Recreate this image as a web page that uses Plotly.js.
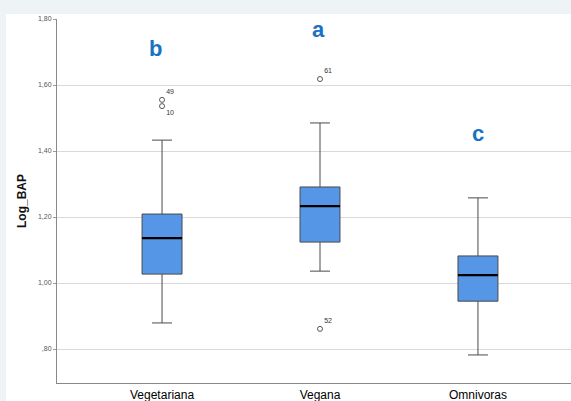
<!DOCTYPE html>
<html><head><meta charset="utf-8">
<script src="https://cdn.plot.ly/plotly-3.0.1.min.js"></script>
<style>
html,body{margin:0;padding:0;width:571px;height:401px;background:#eef3f6;overflow:hidden;}
#chart{position:absolute;left:6px;top:14px;width:565px;height:387px;background:#fff;}
</style></head>
<body><div id="chart"></div>
<script>
const categories = ['Vegetariana','Vegana','Omnivoras'];
const q1 = [1.027, 1.124, 0.945];
const median = [1.136, 1.233, 1.024];
const q3 = [1.209, 1.291, 1.082];
const lowerfence = [0.879, 1.036, 0.782];
const upperfence = [1.433, 1.485, 1.258];
const outlierCat = [0, 0, 1, 1];
const outlierVal = [1.555, 1.536, 1.618, 0.861];
const outlierLabel = ['49', '10', '61', '52'];
const outlierPos = ['top right', 'bottom right', 'top right', 'top right'];
const letters = ['b', 'a', 'c'];
const letterY = [1.712, 1.767, 1.452];
const yTickVals = [0.8, 1.0, 1.2, 1.4, 1.6, 1.8];
const yTickText = [',80', '1,00', '1,20', '1,40', '1,60', '1,80'];

const xs = categories.map((c, i) => i);
const bw = 0.253;

const boxTrace = {
  type: 'box', x: xs, q1: q1, median: median, q3: q3,
  lowerfence: lowerfence, upperfence: upperfence,
  width: bw, whiskerwidth: 0.5,
  fillcolor: '#5596e6', line: {color: '#4a4a4a', width: 1},
  boxpoints: false, hoverinfo: 'none', showlegend: false
};
const medX = [], medY = [];
median.forEach((m, i) => { medX.push(i - bw / 2, i + bw / 2, null); medY.push(m, m, null); });
const medTrace = {type: 'scatter', mode: 'lines', x: medX, y: medY,
  line: {color: '#000', width: 2.2}, showlegend: false, hoverinfo: 'none'};
const outTrace = {type: 'scatter', mode: 'markers+text',
  x: outlierCat, y: outlierVal, text: outlierLabel, textposition: outlierPos,
  textfont: {family: 'Arial, Liberation Sans', size: 7, color: '#333'},
  marker: {symbol: 'circle-open', size: 5, color: '#555', line: {width: 1}},
  showlegend: false, hoverinfo: 'none', cliponaxis: false};
const letterShift = [-7, -2, 0];
const annotations = letters.map((t, i) => ({
  x: xs[i], y: letterY[i], xref: 'x', yref: 'y', text: t, showarrow: false,
  xshift: letterShift[i],
  font: {family: 'Arial, Liberation Sans', size: 22, color: '#1a72c4', weight: 'bold'}
}));

const layout = {
  width: 565, height: 387,
  margin: {l: 51, r: 0, t: 5, b: 18},
  paper_bgcolor: '#ffffff', plot_bgcolor: '#ffffff',
  annotations: annotations,
  xaxis: {range: [-0.665, 2.589], tickvals: xs, ticktext: categories,
    showgrid: false, zeroline: false, showline: true, linecolor: '#888', linewidth: 1,
    ticks: '', ticklabelstandoff: 1,
    tickfont: {family: 'Arial, Liberation Sans', size: 12, color: '#000'}},
  yaxis: {range: [0.697, 1.80], tickvals: yTickVals, ticktext: yTickText,
    showgrid: true, gridcolor: '#d9d9d9', gridwidth: 1, zeroline: false,
    showline: true, linecolor: '#888', linewidth: 1, ticks: 'outside', ticklen: 3, tickcolor: '#999',
    tickfont: {family: 'Arial, Liberation Sans', size: 7, color: '#555'},
    title: {text: 'Log_BAP', standoff: 8, font: {family: 'Arial, Liberation Sans', size: 12, color: '#111', weight: 'bold'}}},
  showlegend: false
};
Plotly.newPlot('chart', [boxTrace, medTrace, outTrace], layout, {displayModeBar: false, staticPlot: true});
</script></body></html>
